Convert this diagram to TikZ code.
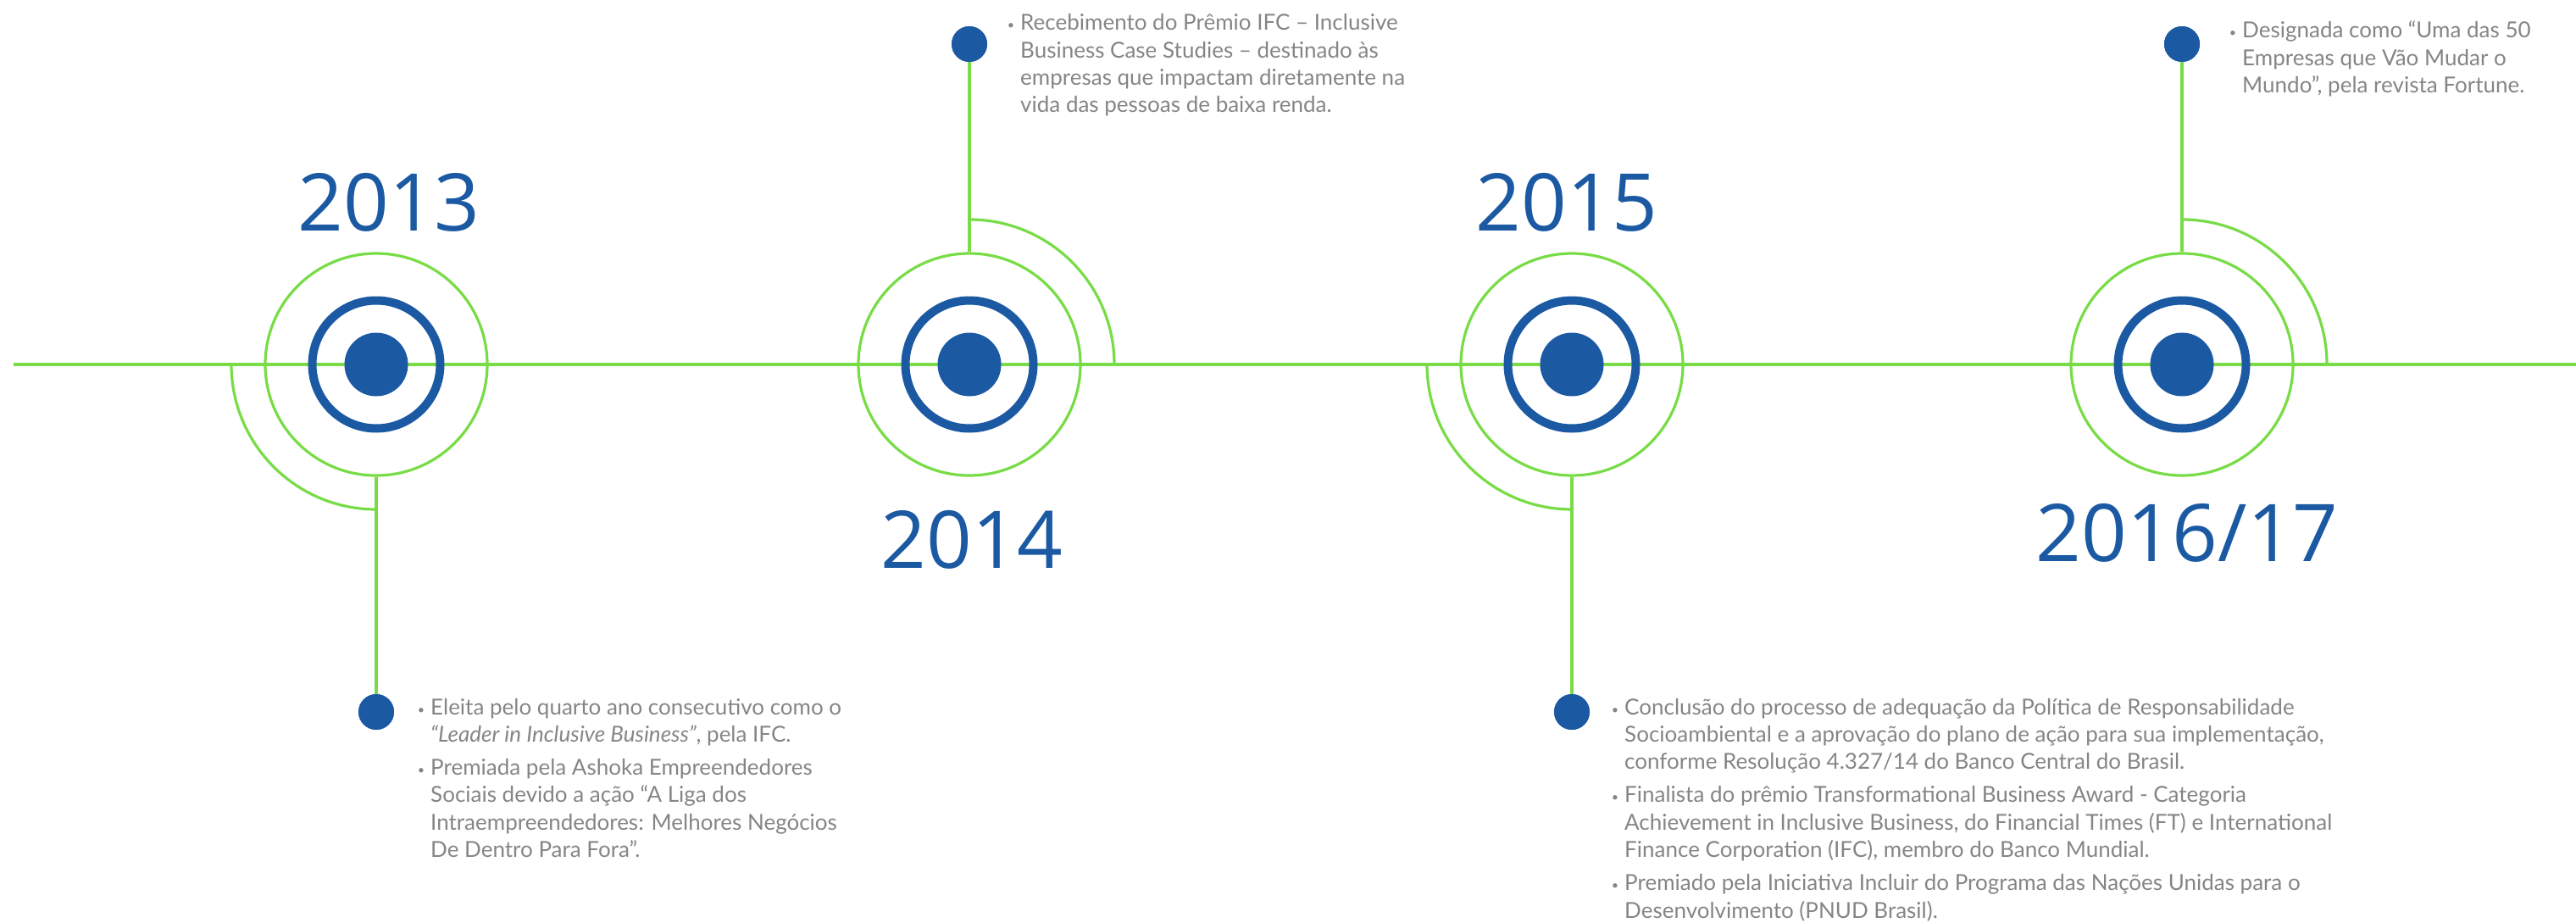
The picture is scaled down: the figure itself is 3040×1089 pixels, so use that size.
\documentclass[tikz,border=0pt]{standalone}
\usepackage{fontspec}
\setmainfont{Lato}
\newfontfamily\yearfont{Open Sans}
\usepackage{graphicx}
\usepackage{xcolor}
\usetikzlibrary{positioning}

\definecolor{navy}{HTML}{1B5AA3}
\definecolor{lime}{HTML}{78DC46}
\definecolor{ink}{HTML}{858585}

\newcommand{\dotitem}{\llap{\raisebox{1pt}{\scalebox{0.55}{\textbullet}}\hspace{7pt}}}

\tikzset{
    tline/.style={draw=lime, line width=3.2pt},
    halo/.style={circle, draw=lime, line width=3.2pt, minimum size=262pt, inner sep=0pt},
    ring/.style={circle, draw=navy, line width=10pt, minimum size=151pt, inner sep=0pt},
    hub/.style={circle, fill=navy, minimum size=75pt, inner sep=0pt},
    pin/.style={circle, fill=navy, minimum size=42pt, inner sep=0pt},
    yearlabel/.style={text=navy, font=\yearfont\fontsize{94}{94}\selectfont, anchor=base, inner sep=0pt},
    note/.style={text=ink, font=\fontsize{26}{32.3}\selectfont, anchor=base west, inner sep=0pt}
}

\begin{document}
\begin{tikzpicture}[x=1pt, y=1pt]
                    \useasboundingbox (0,0) rectangle (3040,-1089);
                    \coordinate (start) at (16,-430);
                    \coordinate (end) at (3040,-430);
                    \draw[tline] (start) -- (end);

                    \foreach \n/\x in {13/444, 14/1144, 15/1855, 16/2575} {
                        \node[halo] (h\n) at (\x,-430) {};
                        \node[ring] (r\n) at (\x,-430) {};
                        \node[hub] (c\n) at (\x,-430) {};
                    }

                    \node[pin] (p13) at (444,-840) {};
                    \node[pin] (p14) at (1144,-52) {};
                    \node[pin] (p15) at (1855,-840) {};
                    \node[pin] (p16) at (2575,-52) {};

                    \draw[tline] (h13.south) -- (p13);
                    \draw[tline] (h14.north) -- (p14);
                    \draw[tline] (h15.south) -- (p15);
                    \draw[tline] (h16.north) -- (p16);
                    \node[pin] at (p13) {};
                    \node[pin] at (p14) {};
                    \node[pin] at (p15) {};
                    \node[pin] at (p16) {};

                    \draw[tline] ([xshift=-171pt]c13.center) arc[start angle=180, end angle=270, radius=171pt];
                    \draw[tline] ([yshift=171pt]c14.center) arc[start angle=90, end angle=0, radius=171pt];
                    \draw[tline] ([xshift=-171pt]c15.center) arc[start angle=180, end angle=270, radius=171pt];
                    \draw[tline] ([yshift=171pt]c16.center) arc[start angle=90, end angle=0, radius=171pt];

                    \node[yearlabel] (yr13) at (459,-272) {2013};
                    \node[yearlabel] (yr14) at (1147,-670) {2014};
                    \node[yearlabel] (yr15) at (1849,-272) {2015};
                    \node[yearlabel] (yr16) at (2581,-662) {2016/17};

                    \node[note] (n13) at (508,-843) {\begin{tabular}[t]{@{}l@{}}
                        \dotitem Eleita pelo quarto ano consecutivo como o\\
                        \textit{“Leader in Inclusive Business”}, pela IFC.\\[7pt]
                        \dotitem Premiada pela Ashoka Empreendedores\\
                        Sociais devido a ação “A Liga dos\\
                        Intraempreendedores: Melhores Negócios\\
                        De Dentro Para Fora”.
                    \end{tabular}};
                    \node[note] (n14) at (1204,-36) {\begin{tabular}[t]{@{}l@{}}
                        \dotitem Recebimento do Prêmio IFC – Inclusive\\
                        Business Case Studies – destinado às\\
                        empresas que impactam diretamente na\\
                        vida das pessoas de baixa renda.
                    \end{tabular}};
                    \node[note] (n15) at (1917,-843) {\begin{tabular}[t]{@{}l@{}}
                        \dotitem Conclusão do processo de adequação da Política de Responsabilidade\\
                        Socioambiental e a aprovação do plano de ação para sua implementação,\\
                        conforme Resolução 4.327/14 do Banco Central do Brasil.\\[7pt]
                        \dotitem Finalista do prêmio Transformational Business Award - Categoria\\
                        Achievement in Inclusive Business, do Financial Times (FT) e International\\
                        Finance Corporation (IFC), membro do Banco Mundial.\\[7pt]
                        \dotitem Premiado pela Iniciativa Incluir do Programa das Nações Unidas para o\\
                        Desenvolvimento (PNUD Brasil).
                    \end{tabular}};
                    \node[note] (n16) at (2646,-45) {\begin{tabular}[t]{@{}l@{}}
                        \dotitem Designada como “Uma das 50\\
                        Empresas que Vão Mudar o\\
                        Mundo”, pela revista Fortune.
                    \end{tabular}};
                \end{tikzpicture}
\end{document}
